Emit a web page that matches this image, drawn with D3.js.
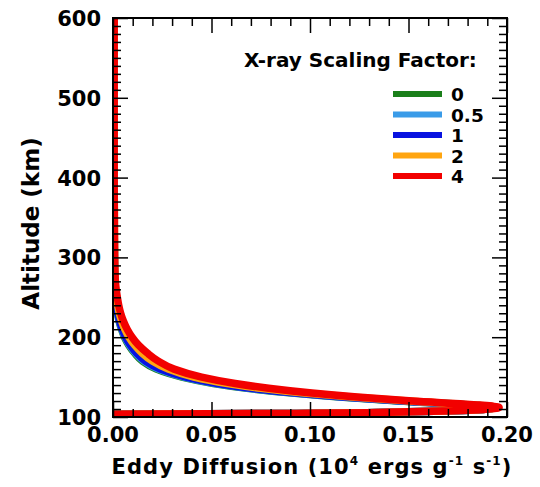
<!DOCTYPE html>
<html>
<head>
<meta charset="utf-8">
<script src="https://cdn.jsdelivr.net/npm/d3@7"></script>
<style>
  html, body { margin: 0; padding: 0; background: #fff; }
  svg { display: block; font-family: "DejaVu Sans", sans-serif; font-weight: bold; }
</style>
</head>
<body>
<svg id="chart" width="540" height="487"></svg>
<script>
// Altitude grid (km) shared by every profile
const altitudes = [103.5, 104.5, 106.5, 109, 112, 115, 120, 125, 130, 136, 142, 150, 160, 170, 180,
                   190, 200, 210, 220, 230, 240, 250, 260, 270, 280, 300, 350, 400, 500, 600];

// Eddy diffusion coefficient (10^4 ergs g^-1 s^-1) for each X-ray scaling factor
const kFactor0  = [0, 0.085, 0.15, 0.186, 0.194, 0.182, 0.145, 0.115, 0.091, 0.068, 0.051, 0.035, 0.022, 0.015, 0.011,
                   0.008, 0.0058, 0.0043, 0.0031, 0.0023, 0.0017, 0.0012, 0.001, 0.0009, 0.0008, 0.0007, 0.0006, 0.0006, 0.0006, 0.0006];
const kFactor05 = [0, 0.085, 0.15, 0.186, 0.194, 0.182, 0.146, 0.116, 0.092, 0.069, 0.052, 0.036, 0.023, 0.0158, 0.0115,
                   0.0084, 0.0061, 0.0045, 0.0033, 0.0024, 0.0018, 0.0013, 0.001, 0.0009, 0.0008, 0.0007, 0.0006, 0.0006, 0.0006, 0.0006];
const kFactor1  = [0, 0.085, 0.15, 0.186, 0.194, 0.183, 0.147, 0.117, 0.093, 0.070, 0.053, 0.037, 0.024, 0.0165, 0.012,
                   0.0088, 0.0064, 0.0047, 0.0034, 0.0025, 0.0019, 0.0014, 0.0011, 0.0009, 0.0008, 0.0007, 0.0006, 0.0006, 0.0006, 0.0006];
const kFactor2  = [0, 0.085, 0.15, 0.186, 0.195, 0.184, 0.150, 0.121, 0.097, 0.075, 0.058, 0.041, 0.028, 0.020, 0.0148,
                   0.011, 0.0081, 0.006, 0.0044, 0.0032, 0.0024, 0.0018, 0.0013, 0.001, 0.0009, 0.0008, 0.0007, 0.0006, 0.0006, 0.0006];
const kFactor4  = [0, 0.085, 0.15, 0.186, 0.196, 0.186, 0.152, 0.124, 0.101, 0.079, 0.062, 0.045, 0.031, 0.023, 0.0175,
                   0.013, 0.0097, 0.0072, 0.0053, 0.0039, 0.0029, 0.0022, 0.0016, 0.0012, 0.001, 0.0008, 0.0007, 0.0006, 0.0006, 0.0006];

const factorLabels = ["0", "0.5", "1", "2", "4"];
const factorColors = ["#1a7f1a", "#3a9be8", "#0812e0", "#ffa510", "#f20000"];

const xTicks = [0, 0.05, 0.10, 0.15, 0.20];
const yTicks = [100, 200, 300, 400, 500, 600];

const series = [kFactor0, kFactor05, kFactor1, kFactor2, kFactor4].map((k, i) => ({
  label: factorLabels[i],
  color: factorColors[i],
  points: altitudes.map((z, j) => ({ z, k: k[j] }))
}));

const svg = d3.select("#chart");
const plot = { left: 113, right: 507, top: 18, bottom: 417 };

const x = d3.scaleLinear().domain([0, 0.2]).range([plot.left, plot.right]);
const y = d3.scaleLinear().domain([100, 600]).range([plot.bottom, plot.top]);

svg.append("defs").append("clipPath").attr("id", "plotClip")
  .append("rect")
  .attr("x", plot.left).attr("y", plot.top)
  .attr("width", plot.right - plot.left).attr("height", plot.bottom - plot.top);

// Profiles, lowest factor first so the highest sits on top
const line = d3.line().x(d => x(d.k)).y(d => y(d.z)).curve(d3.curveMonotoneY);
svg.append("g").attr("clip-path", "url(#plotClip)")
  .selectAll("path").data(series).join("path")
  .attr("d", d => line(d.points))
  .attr("fill", "none")
  .attr("stroke", d => d.color)
  .attr("stroke-width", 7.5)
  .attr("stroke-linejoin", "round");

// Inward ticks on all four sides
const majorLen = 15, minorLen = 8;
const xMinor = d3.range(0, 0.2001, 0.01).filter(v => Math.abs(v / 0.05 - Math.round(v / 0.05)) > 1e-6);
const yMinor = d3.range(100, 601, 10).filter(v => v % 100 !== 0);

function styleAxis(g) {
  g.select(".domain").remove();
  g.selectAll(".tick line").attr("stroke", "#000").attr("stroke-width", 1.5);
  g.selectAll("text").remove();
}

[[d3.axisBottom, plot.bottom], [d3.axisTop, plot.top]].forEach(([ax, pos]) => {
  svg.append("g").attr("transform", `translate(0,${pos})`)
    .call(ax(x).tickValues(xTicks).tickSize(-majorLen)).call(styleAxis);
  svg.append("g").attr("transform", `translate(0,${pos})`)
    .call(ax(x).tickValues(xMinor).tickSize(-minorLen)).call(styleAxis);
});
[[d3.axisLeft, plot.left], [d3.axisRight, plot.right]].forEach(([ax, pos]) => {
  svg.append("g").attr("transform", `translate(${pos},0)`)
    .call(ax(y).tickValues(yTicks).tickSize(-majorLen)).call(styleAxis);
  svg.append("g").attr("transform", `translate(${pos},0)`)
    .call(ax(y).tickValues(yMinor).tickSize(-minorLen)).call(styleAxis);
});

// Frame
svg.append("rect")
  .attr("x", plot.left).attr("y", plot.top)
  .attr("width", plot.right - plot.left).attr("height", plot.bottom - plot.top)
  .attr("fill", "none").attr("stroke", "#000").attr("stroke-width", 2);

// Tick labels
svg.append("g").selectAll("text").data(xTicks).join("text")
  .attr("x", d => x(d)).attr("y", 442)
  .attr("text-anchor", "middle").attr("font-size", 21)
  .text(d => d.toFixed(2));
svg.append("g").selectAll("text").data(yTicks).join("text")
  .attr("x", 101).attr("y", d => y(d) + 8)
  .attr("text-anchor", "end").attr("font-size", 21)
  .text(d => d);

// Axis titles
const xt = svg.append("text")
  .attr("x", (plot.left + plot.right) / 2 + 2).attr("y", 474)
  .attr("text-anchor", "middle").attr("font-size", 21)
  .attr("letter-spacing", 1.1);
xt.append("tspan").text("Eddy Diffusion (10");
xt.append("tspan").attr("dy", -9).attr("font-size", 12).text("4");
xt.append("tspan").attr("dy", 9).text(" ergs g");
xt.append("tspan").attr("dy", -9).attr("font-size", 12).text("-1");
xt.append("tspan").attr("dy", 9).text(" s");
xt.append("tspan").attr("dy", -9).attr("font-size", 12).text("-1");
xt.append("tspan").attr("dy", 9).text(")");

svg.append("text")
  .attr("transform", `translate(39,${(plot.top + plot.bottom) / 2 + 6}) rotate(-90)`)
  .attr("text-anchor", "middle").attr("font-size", 23)
  .text("Altitude (km)");

// Legend
svg.append("text").attr("x", 244).attr("y", 67).attr("font-size", 20)
  .text("X-ray Scaling Factor:");
const legendY = d3.scalePoint().domain(factorLabels).range([94, 176]);
const leg = svg.append("g").selectAll("g").data(series).join("g")
  .attr("transform", d => `translate(0,${legendY(d.label)})`);
leg.append("line").attr("x1", 393).attr("x2", 442)
  .attr("stroke", d => d.color).attr("stroke-width", 6);
leg.append("text").attr("x", 451).attr("y", 7).attr("font-size", 18.5)
  .text(d => d.label);
</script>
</body>
</html>
